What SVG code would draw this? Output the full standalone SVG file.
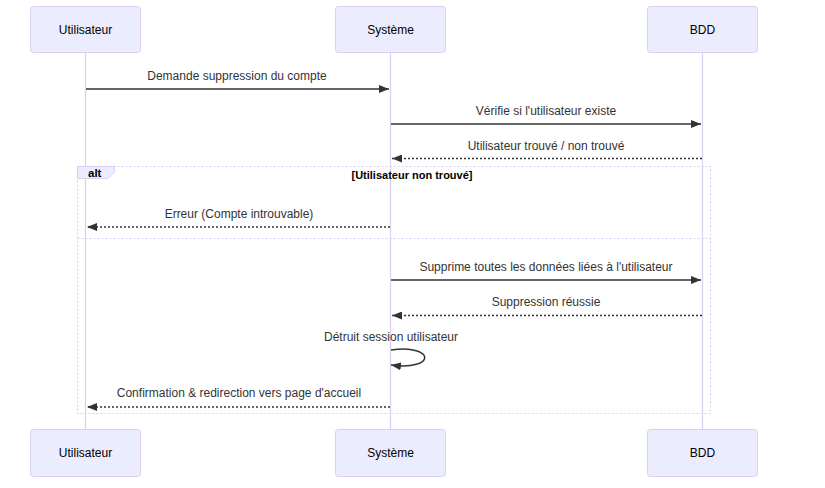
<svg xmlns="http://www.w3.org/2000/svg" width="825" height="488" viewBox="0 0 825 488">
<defs>
<style>
.actor{fill:#ECECFF;stroke:#DACEF3;stroke-width:1}
.life{stroke:#DACEF3;stroke-width:1.2}
.at{font-family:"Liberation Sans",Arial,sans-serif;font-size:12px;fill:#000;text-anchor:middle;dominant-baseline:central}
.mt{font-family:"Liberation Sans",Arial,sans-serif;font-size:12px;fill:#333;text-anchor:middle}
.msg{stroke:#333;stroke-width:1.5;fill:none}
.dash{stroke-dasharray:2,2}
.frame{fill:none;stroke:#DACEF3;stroke-width:1.2;stroke-dasharray:2,2}
</style>
<marker id="ah" viewBox="0 0 10 8" refX="10" refY="4" markerWidth="10" markerHeight="8" markerUnits="userSpaceOnUse" orient="auto">
<path d="M0,0 L10,4 L0,8 z" fill="#333"/>
</marker>
</defs>
<rect width="825" height="488" fill="#fff"/>
<g id="lifelines">
<line class="life" x1="85.5" y1="53" x2="85.5" y2="429"/>
<line class="life" x1="390.5" y1="53" x2="390.5" y2="429"/>
<line class="life" x1="702.5" y1="53" x2="702.5" y2="429"/>
</g>
<g id="actor-utilisateur-top"><rect class="actor" x="30.5" y="6.5" width="110" height="46" rx="3"/><text class="at" x="85.5" y="30">Utilisateur</text></g>
<g id="actor-systeme-top"><rect class="actor" x="335.5" y="6.5" width="110" height="46" rx="3"/><text class="at" x="390.5" y="30">Système</text></g>
<g id="actor-bdd-top"><rect class="actor" x="647.5" y="6.5" width="110" height="46" rx="3"/><text class="at" x="702.5" y="30">BDD</text></g>
<g id="actor-utilisateur-bottom"><rect class="actor" x="30.5" y="429.5" width="110" height="47" rx="3"/><text class="at" x="85.5" y="453">Utilisateur</text></g>
<g id="actor-systeme-bottom"><rect class="actor" x="335.5" y="429.5" width="110" height="47" rx="3"/><text class="at" x="390.5" y="453">Système</text></g>
<g id="actor-bdd-bottom"><rect class="actor" x="647.5" y="429.5" width="110" height="47" rx="3"/><text class="at" x="702.5" y="453">BDD</text></g>
<g id="alt-frame">
<rect class="frame" x="77.5" y="166.5" width="633" height="247"/>
<path d="M77.5,166.5 H114.5 V172 L108,178.5 H77.5 Z" fill="#ECECFF" stroke="#DACEF3" stroke-width="1"/>
<text x="88" y="176.5" font-family="Liberation Sans,Arial,sans-serif" font-size="11.5" font-weight="bold" fill="#000">alt</text>
<text x="412" y="179" font-family="Liberation Sans,Arial,sans-serif" font-size="11" font-weight="bold" fill="#000" text-anchor="middle">[Utilisateur non trouvé]</text>
<line class="frame" x1="77.5" y1="238.5" x2="710.5" y2="238.5"/>
</g>
<g id="connectors">
<text class="mt" x="237" y="80">Demande suppression du compte</text>
<line class="msg" x1="86" y1="89" x2="389" y2="89" marker-end="url(#ah)"/>
<text class="mt" x="546" y="115">Vérifie si l'utilisateur existe</text>
<line class="msg" x1="391" y1="124" x2="701" y2="124" marker-end="url(#ah)"/>
<text class="mt" x="546" y="150">Utilisateur trouvé / non trouvé</text>
<line class="msg dash" x1="702" y1="158.5" x2="392" y2="158.5" marker-end="url(#ah)"/>
<text class="mt" x="239" y="218">Erreur (Compte introuvable)</text>
<line class="msg dash" x1="390" y1="227" x2="87" y2="227" marker-end="url(#ah)"/>
<text class="mt" x="546" y="271">Supprime toutes les données liées à l'utilisateur</text>
<line class="msg" x1="391" y1="280" x2="701" y2="280" marker-end="url(#ah)"/>
<text class="mt" x="546" y="306">Suppression réussie</text>
<line class="msg dash" x1="702" y1="315.5" x2="392" y2="315.5" marker-end="url(#ah)"/>
<text class="mt" x="391" y="341">Détruit session utilisateur</text>
<path class="msg" d="M391,350 C436,344 436,371 391,365" marker-end="url(#ah)"/>
<text class="mt" x="239" y="397">Confirmation &amp; redirection vers page d'accueil</text>
<line class="msg dash" x1="390" y1="407" x2="87" y2="407" marker-end="url(#ah)"/>
</g>
</svg>
